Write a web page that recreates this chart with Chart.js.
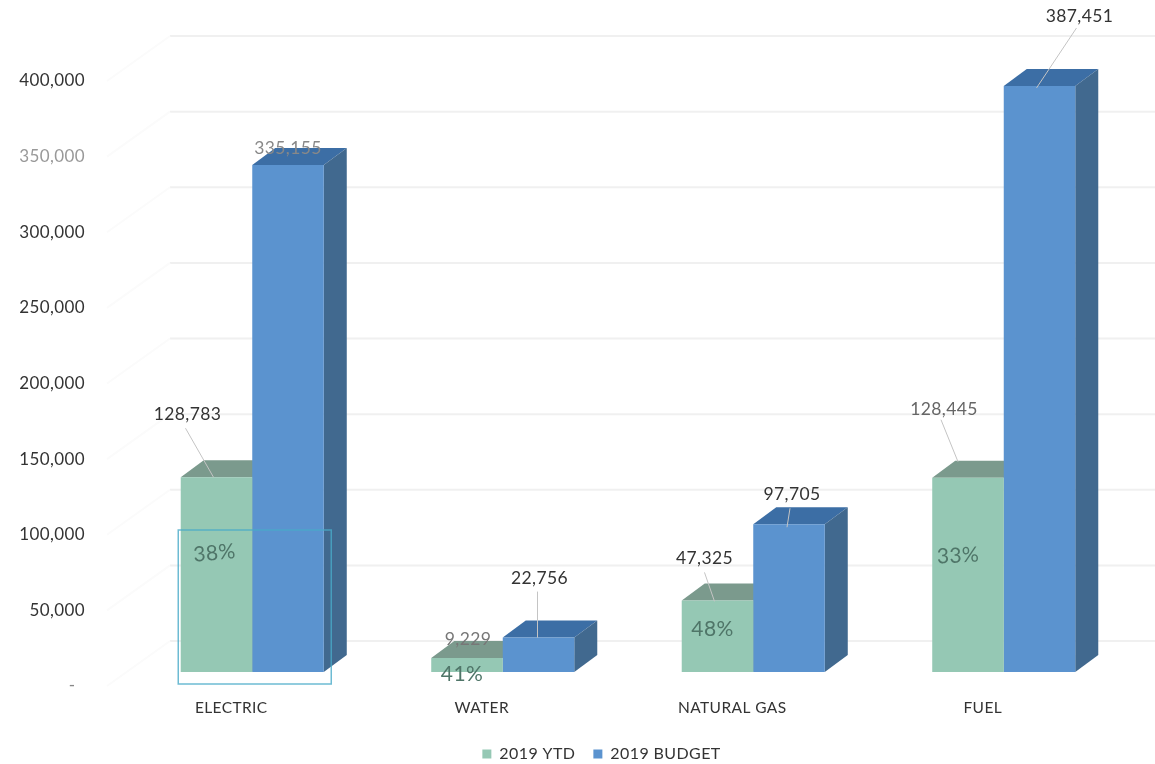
<!DOCTYPE html>
<html>
<head>
<meta charset="utf-8">
<title>Utilities 2019</title>
<script src="https://cdn.jsdelivr.net/npm/chart.js@4/dist/chart.umd.min.js"></script>
<style>
    body { margin: 0; background: #fff; }
    canvas { display: block; }
</style>
</head>
<body>
<canvas id="grafico" width="1155" height="764"></canvas>
<script>
const categories = ['ELECTRIC', 'WATER', 'NATURAL GAS', 'FUEL'];
const ytd = [128783, 9229, 47325, 128445];
const budget = [335155, 22756, 97705, 387451];
const percents = ['38%', '41%', '48%', '33%'];
const yTicks = [0, 50000, 100000, 150000, 200000, 250000, 300000, 350000, 400000];

// 3D look: bars sit above the axis zero and have a fixed depth
const FLOOR_LIFT = 14;
const DEPTH_X = 23;
const DEPTH_Y = 17;
const WALL_LIFT = 45;

const FONT = 'Lato, sans-serif';

// callouts: text position and leader line, relative to the top centre of each bar
const ytdCallouts = [
    { tx: -29, ty: -63, line: [-31, -49, -3, 0], color: '#333' },
    { tx: 1, ty: -19, line: null, color: '#777' },
    { tx: -13, ty: -42, line: [-13, -28, -3, 1], color: '#333' },
    { tx: -24, ty: -68, line: [-27, -58, -10, -16], color: '#666' }
];
const budgetCallouts = [
    { tx: 0, ty: -17, line: null, color: '#888' },
    { tx: 1, ty: -59, line: [-1, -46, -1, 0], color: '#333' },
    { tx: 3, ty: -30, line: [1, -16, -2, 3], color: '#333' },
    { tx: 40, ty: -70, line: [37, -58, -3, 2], color: '#333' }
];
const percentOffsets = [[-2, 76, -0.09], [-5, 16, 0], [-5, 29, 0], [-10, 78, -0.05]];

const depthColors = [
    { top: '#7b9a8d', side: '#6f9184' },
    { top: '#3c6ea5', side: '#41698f' }
];

function drawDepth(ctx, bar, colors) {
    const left = bar.x - bar.width / 2;
    const right = bar.x + bar.width / 2;
    ctx.fillStyle = colors.top;
    ctx.beginPath();
    ctx.moveTo(left, bar.y);
    ctx.lineTo(left + DEPTH_X, bar.y - DEPTH_Y);
    ctx.lineTo(right + DEPTH_X, bar.y - DEPTH_Y);
    ctx.lineTo(right, bar.y);
    ctx.closePath();
    ctx.fill();

    ctx.fillStyle = colors.side;
    ctx.beginPath();
    ctx.moveTo(right, bar.y);
    ctx.lineTo(right + DEPTH_X, bar.y - DEPTH_Y);
    ctx.lineTo(right + DEPTH_X, bar.base - DEPTH_Y);
    ctx.lineTo(right, bar.base);
    ctx.closePath();
    ctx.fill();
}

const barre3d = {
    id: 'barre3d',
    beforeUpdate(chart) {
        chart.ctx.letterSpacing = '0.4px';
    },
    afterLayout(chart) {
        // legend sits centred under the bars, not under the whole canvas
        chart.legend.left += 59;
    },
    beforeDatasetsDraw(chart) {
        const ctx = chart.ctx;
        const y = chart.scales.y;

        // back wall lines and the faint diagonals going to the axis
        ctx.save();
        yTicks.forEach(v => {
            const py = y.getPixelForValue(v);
            ctx.strokeStyle = '#f0f0f0';
            ctx.lineWidth = 2;
            ctx.beginPath();
            ctx.moveTo(170, py - WALL_LIFT);
            ctx.lineTo(1155, py - WALL_LIFT);
            ctx.stroke();
            ctx.strokeStyle = '#fbfbfb';
            ctx.beginPath();
            ctx.moveTo(107, py);
            ctx.lineTo(170, py - WALL_LIFT);
            ctx.stroke();
        });
        ctx.restore();

        ctx.save();
        ctx.translate(0, -FLOOR_LIFT);
        chart.data.datasets.forEach((ds, i) => {
            chart.getDatasetMeta(i).data.forEach(bar => drawDepth(ctx, bar, depthColors[i]));
        });
    },
    afterDatasetsDraw(chart) {
        const ctx = chart.ctx;
        ctx.restore();

        ctx.save();
        ctx.textAlign = 'center';
        ctx.textBaseline = 'middle';
        const callouts = [ytdCallouts, budgetCallouts];
        const values = [ytd, budget];

        callouts.forEach((list, i) => {
            chart.getDatasetMeta(i).data.forEach((bar, j) => {
                const c = list[j];
                const top = bar.y - FLOOR_LIFT;
                if (c.line) {
                    ctx.strokeStyle = '#c4c4c4';
                    ctx.lineWidth = 1;
                    ctx.beginPath();
                    ctx.moveTo(bar.x + c.line[0], top + c.line[1]);
                    ctx.lineTo(bar.x + c.line[2], top + c.line[3]);
                    ctx.stroke();
                }
                ctx.fillStyle = c.color;
                ctx.font = '17.5px ' + FONT;
                ctx.fillText(values[i][j].toLocaleString('en-US'), bar.x + c.tx, top + c.ty);
            });
        });

        // percent of budget, written on the green bars
        chart.getDatasetMeta(0).data.forEach((bar, j) => {
            const [dx, dy, rot] = percentOffsets[j];
            ctx.save();
            ctx.translate(bar.x + dx, bar.y - FLOOR_LIFT + dy);
            ctx.rotate(rot);
            ctx.fillStyle = '#4f7568';
            ctx.font = '21px ' + FONT;
            ctx.fillText(percents[j], 0, 0);
            ctx.restore();
        });
        ctx.restore();

        // highlight box around the first group
        const x = chart.scales.x;
        const y = chart.scales.y;
        const cx = x.getPixelForValue(0);
        ctx.save();
        ctx.strokeStyle = 'rgba(72, 170, 200, 0.8)';
        ctx.lineWidth = 1.5;
        ctx.strokeRect(cx - 74, y.getPixelForValue(0) - 156, 153, 154);
        ctx.restore();
    }
};

new Chart(document.getElementById('grafico'), {
    type: 'bar',
    data: {
        labels: categories,
        datasets: [
            {
                label: '2019 YTD',
                data: ytd,
                backgroundColor: '#95c8b4',
                categoryPercentage: 0.571,
                barPercentage: 1
            },
            {
                label: '2019 BUDGET',
                data: budget,
                backgroundColor: '#5b93cf',
                categoryPercentage: 0.571,
                barPercentage: 1
            }
        ]
    },
    options: {
        responsive: false,
        animation: false,
        clip: false,
        layout: {
            padding: { left: 15, right: 26, top: 81, bottom: -8 }
        },
        scales: {
            x: {
                afterFit: scale => { scale.height = 42; },
                grid: { display: false },
                border: { display: false },
                ticks: {
                    color: '#333',
                    padding: 5,
                    labelOffset: -21,
                    maxRotation: 0,
                    font: { family: FONT, size: 15.5 }
                }
            },
            y: {
                min: 0,
                max: 400000,
                afterFit: scale => { scale.width = 112; },
                grid: { display: false },
                border: { display: false },
                afterBuildTicks: scale => {
                    scale.ticks = yTicks.map(v => ({ value: v }));
                },
                ticks: {
                    padding: 34,
                    color: ctx => {
                        if (ctx.tick.value === 350000) return '#999';
                        if (ctx.tick.value === 0) return '#888';
                        return '#333';
                    },
                    font: { family: FONT, size: 17 },
                    callback: v => (v === 0 ? '-  ' : v.toLocaleString('en-US'))
                }
            }
        },
        plugins: {
            legend: {
                position: 'bottom',
                labels: {
                    color: '#333',
                    boxWidth: 9,
                    boxHeight: 9,
                    padding: 18,
                    font: { family: FONT, size: 16 }
                }
            },
            tooltip: { enabled: false }
        }
    },
    plugins: [barre3d]
});
</script>
</body>
</html>
